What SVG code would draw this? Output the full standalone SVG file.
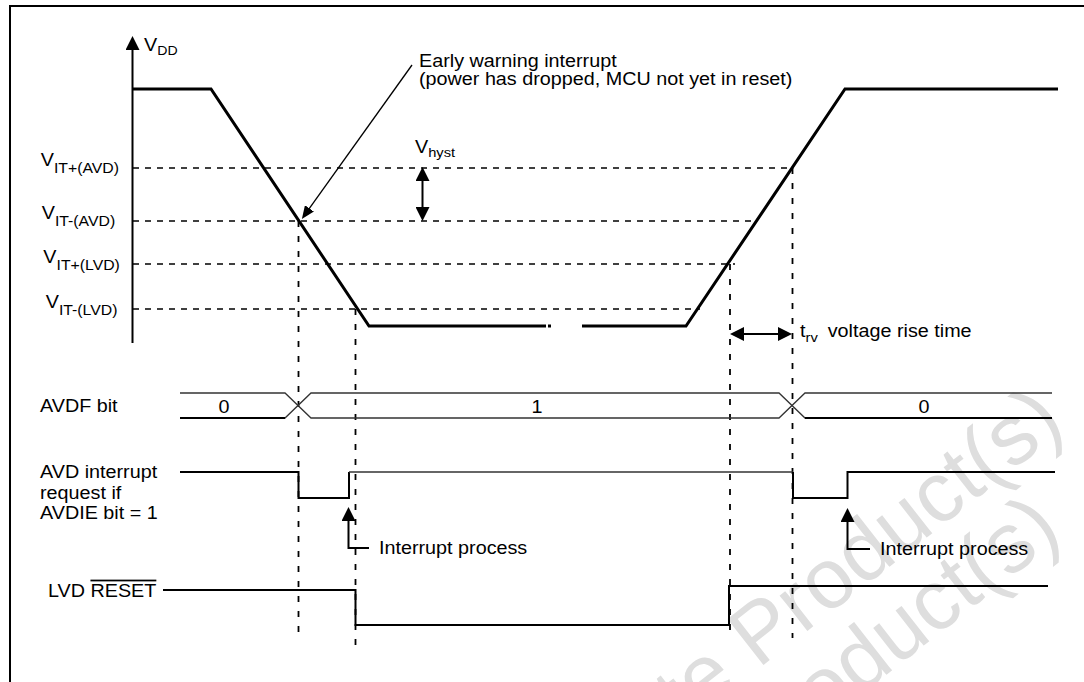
<svg xmlns="http://www.w3.org/2000/svg" width="1084" height="682" viewBox="0 0 1084 682">
<style>
.t{font-family:"Liberation Sans",Arial,Helvetica,sans-serif;font-size:17.5px;fill:#000}
.wm{font-family:"Liberation Sans",Arial,Helvetica,sans-serif;font-size:85px;fill:#dedede}
.dash{fill:none;stroke:#000;stroke-width:1.6;stroke-dasharray:6 6}
.vdash{fill:none;stroke:#000;stroke-width:1.8;stroke-dasharray:6 9}
.wave{fill:none;stroke:#000;stroke-width:3;stroke-linejoin:miter}
.sig{fill:none;stroke:#000;stroke-width:2}
.thin{fill:none;stroke:#333;stroke-width:1.3}
.arr{fill:none;stroke:#000;stroke-width:2}
</style>
<defs>
<marker id="ah" viewBox="0 0 14 14" refX="10" refY="7" markerWidth="14" markerHeight="14" markerUnits="userSpaceOnUse" orient="auto-start-reverse"><path d="M0,0 L14,7 L0,14 z" fill="#000"/></marker>
<marker id="ahs" viewBox="0 0 13 11" refX="9" refY="5.5" markerWidth="13" markerHeight="11" markerUnits="userSpaceOnUse" orient="auto"><path d="M0,0 L13,5.5 L0,11 z" fill="#000"/></marker>
</defs>
<rect width="1084" height="682" fill="#fff"/>
<g id="watermark">
<text class="wm" text-anchor="end" transform="translate(1067,428) rotate(-38)">Obsolete Product(s)</text>
<text class="wm" text-anchor="end" transform="translate(1064,536) rotate(-38)">Obsolete Product(s)</text>
</g>
<g id="frame">
<path d="M10,682 V6 H1084" fill="none" stroke="#000" stroke-width="2"/>
</g>
<g id="connectors">
<line class="dash" x1="133" y1="168" x2="792" y2="168"/>
<line class="dash" x1="133" y1="221" x2="757" y2="221"/>
<line class="dash" x1="133" y1="264" x2="735" y2="264"/>
<line class="dash" x1="133" y1="309" x2="700" y2="309"/>
<line class="vdash" x1="298.5" y1="221" x2="298.5" y2="632"/>
<line class="vdash" x1="355.5" y1="309" x2="355.5" y2="654"/>
<line class="vdash" x1="730" y1="264" x2="730" y2="638"/>
<line class="vdash" x1="792.5" y1="168" x2="792.5" y2="638"/>
<line class="arr" x1="132.5" y1="343" x2="132.5" y2="40" marker-end="url(#ah)"/>
<polyline class="wave" points="132,89 211,89 369,326 546,326"/>
<line class="wave" x1="548" y1="326" x2="551" y2="326"/>
<polyline class="wave" points="582,326 686,326 845,89 1058,89"/>
<line x1="412" y1="65" x2="304.2" y2="215.7" stroke="#000" stroke-width="1.3" marker-end="url(#ahs)"/>
<line class="arr" x1="422.5" y1="171" x2="422.5" y2="217" marker-start="url(#ah)" marker-end="url(#ah)"/>
<line class="arr" x1="734" y1="334" x2="788" y2="334" marker-start="url(#ah)" marker-end="url(#ah)"/>
<path class="thin" d="M180,393 H285 L311,418 H779 L805,393 H1052"/>
<path class="thin" d="M180,418 H285 L311,393 H779 L805,418 H1052"/>
<path class="sig" d="M180,418 H285 M805,418 H1052"/>
<polyline class="sig" points="180,472 298.5,472 298.5,498 349,498 349,472"/>
<line class="thin" x1="349" y1="472" x2="793" y2="472"/>
<polyline class="sig" points="793,472 793,498 847.5,498 847.5,472 1055,472"/>
<path class="arr" d="M369,548 H348.5 V511" marker-end="url(#ah)"/>
<path class="arr" d="M870,549 H847.5 V512" marker-end="url(#ah)"/>
<polyline class="sig" points="163,590 355.5,590 355.5,625 729,625 729,586 1048,586"/>
</g>
<g id="labels">
<text class="t" transform="translate(144,50.7) scale(1.13,1)">V<tspan font-size="12.5" dy="4.5">DD</tspan></text>
<text class="t" transform="translate(40.7,166) scale(1.13,1)" font-size="16.5">V<tspan font-size="14" dy="7">IT+(AVD)</tspan></text>
<text class="t" transform="translate(41.7,219) scale(1.13,1)" font-size="16.5">V<tspan font-size="14" dy="7">IT-(AVD)</tspan></text>
<text class="t" transform="translate(43.3,262.7) scale(1.13,1)" font-size="16.5">V<tspan font-size="14" dy="7">IT+(LVD)</tspan></text>
<text class="t" transform="translate(45.7,308) scale(1.13,1)" font-size="16.5">V<tspan font-size="14" dy="7">IT-(LVD)</tspan></text>
<text class="t" transform="translate(419,67) scale(1.13,1)">Early warning interrupt</text>
<text class="t" transform="translate(419,85) scale(1.13,1)">(power has dropped, MCU not yet in reset)</text>
<text class="t" transform="translate(415,153) scale(1.13,1)" font-size="16.5">V<tspan font-size="13" dy="4">hyst</tspan></text>
<text class="t" transform="translate(800,337) scale(1.13,1)">t<tspan font-size="13" dy="5">rv</tspan><tspan dy="-5" dx="4"> voltage rise time</tspan></text>
<text class="t" transform="translate(40,412) scale(1.13,1)">AVDF bit</text>
<text class="t" text-anchor="middle" transform="translate(224,412.5) scale(1.13,1)">0</text>
<text class="t" text-anchor="middle" transform="translate(537,412.5) scale(1.13,1)">1</text>
<text class="t" text-anchor="middle" transform="translate(924,412.5) scale(1.13,1)">0</text>
<text class="t" transform="translate(40,478) scale(1.13,1)">AVD interrupt</text>
<text class="t" transform="translate(40,498.5) scale(1.13,1)">request if</text>
<text class="t" transform="translate(40,519) scale(1.13,1)">AVDIE bit = 1</text>
<text class="t" transform="translate(379,554) scale(1.13,1)">Interrupt process</text>
<text class="t" transform="translate(880,555) scale(1.13,1)">Interrupt process</text>
<text class="t" transform="translate(48,596.5) scale(1.13,1)">LVD <tspan style="text-decoration:overline">RESET</tspan></text>
</g>
</svg>
